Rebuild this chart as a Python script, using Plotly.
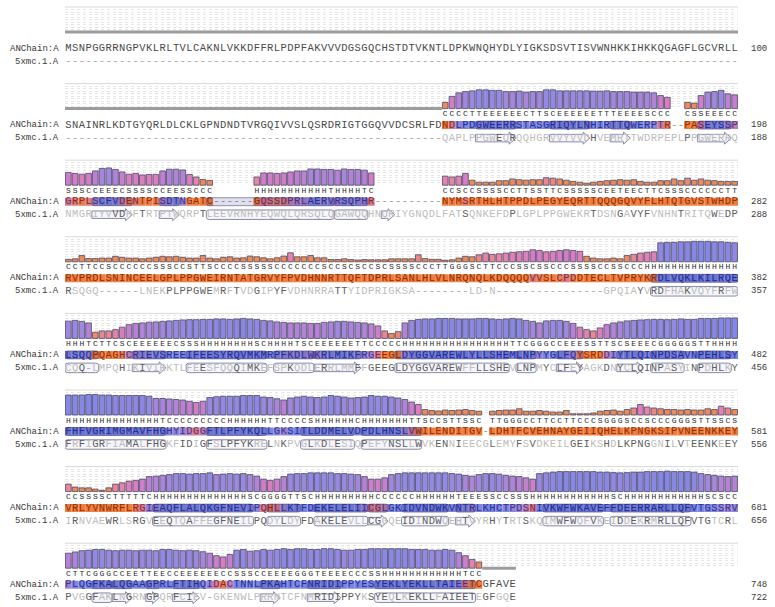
import plotly.graph_objects as go
from plotly.colors import sample_colorscale

# ------------------------------------------------------------------ data
TARGET_NAME = "ANChain:A"
TEMPLATE_NAME = "5xmc.1.A"
TEMPLATE_FIRST_RESIDUE = 145

# target sequence, 100 alignment columns per block ('-' = gap)
target_seq = [
    "MSNPGGRRNGPVKLRLTVLCAKNLVKKDFFRLPDPFAKVVVDGSGQCHSTDTVKNTLDPKWNQHYDLYIGKSDSVTISVWNHKKIHKKQGAGFLGCVRLL",
    "SNAINRLKDTGYQRLDLCKLGPNDNDTVRGQIVVSLQSRDRIGTGGQVVDCSRLFD" + "NDLPDGWEERRSTASGRIQYLNHIRTTQWERPTR" + "--" + "PASEYSSP",
    "GRPLSCFVDENTPISDTNGATC" + "------" + "GQSSDPRLAERVRSQPHR" + "----------" + "NYMSRTHLHTPPDLPEGYEQRTTQQQGQVYFLHTQTGVSTWHDP",
    "RVPRDLSNINCEELGPLPPGWEIRNT" + "ATGRVYFPVDHNNRTTQFTDPRLSANLHLVLNRQNQLKDQQQQVVSLCPDDTECLTVPRYKRDLVQKLKILRQE",
    "LSQQPQAGHCRIEVSREEIFEESYR" + "QVMKMRPFKDLWKRLMIKFRGEEGLDYGGVAREWLYLLSHEMLNPYYGLFQYSRDDIYTLQINPDSAVNPEHLSY",
    "FHFVGRIMGMAVFHGHYIDGGFTLPF" + "YKQLLGKSITLDDMELVDPDLHNSLVWILENDITGV" + "-" + "LDHTFCVEHNAYGEIIQHELKPNGKSIPVNEENKKEY",
    "VRLYVNWRFLRGIEAQFLALQKGFNE" + "VIPQHLLKTFDEKELELIICGLGKIDVNDWKVNTRLKHCTPDSNIVKWFWKAVEFFDEERRARLLQFVTGSSRV",
    "PLQGFKALQGAAGPRLFTIHQIDACT" + "NNLPKAHTCFNRIDIPPYESYEKLYEKLLTAIEETC" + "GFAVE",
]

# template sequence, aligned to the same columns
template_seq = [
    "-" * 100,
    "-" * 56 + "QAPLPPGWEQRQQHGRVVYVVDHVEMRTTWDRPEPLPPGWERRQ",
    "NMGRIYVVDHFTRTPTWQRPTLEEVRNHYEQWQLQRSQLQGAWQQHNQRIYGNQDLFATSQNKEFDPLGPLPPGWEKRTDSNGAVYFVNHNTRITQWEDP",
    "RSQGQ------LNEKPLPPGWEMRFTVDGIPYFVDHNRRATTYIDPRIGKSA--------LD-N----------------GPQIAYVRDFHAKVQYFRFW",
    "CQQ-LMPQHIKIVIRKTLFEESFQQ" + "QIMKEFSPKQDLERRLMMFFGEEGLDYGGVAREWFFLLSHEVLNPMYCLFEYAGKDNYCLQINPASYINPDHLKY",
    "FRFIGRFIAMALFHGKFIDIGFSLPF" + "YKRELNKPVGLKDLESIQPEFYNSLLWVKENNIEECGLEMYFSVDKEILGEIKSHDLKPNGGNILVTEENKEEY",
    "IRNVAEWRLSRGVEEQTQAFFEGFNE" + "ILPQDYLDYFDAKELEVLLCGGQEIDINDWQEHTVYRHYTRTSKQIMWFWQFVKEIDDEKRMRLLQFVTGTCRL",
    "PVGGFAKLNGRNGPQRFCIEV-GKEN" + "WLPRRNTCFNMRIDIPPYKSYEQLKEKLLFAIEETEGFGQE",
]

# model secondary structure (DSSP letters), one per modelled target residue
target_ss = [
    "",
    "CCCCTTEEEEEECTTSCEEEEEETTTEEEESCCC" + "CSSEEECC",
    "SSSCCEEECSSSSCCEESSCCC" + "HHHHHHHHHHHTHHHHTC" + "CCSCCSSSSCCTTSSTTCSSSSSCEETEECTTCSSSCCCCCCTT",
    "CCTTCCSCCCCCCSSSCCSTTSCCCC" + "SSSSSCCCCCCCSCCSCSCCSCSSSSCCCTTGGGSCTTCCCSSCSSCCCS" + "SSSCCSSCCC" + "HHHHHHHHHHHHHH",
    "HHHTCTTCSCEEEEEECSSSHHHHH" + "HHHSCHHHHTSCEEEEEETTCCCCCHHHHHHHHHHHHHHHHTTCGGGCCEEESSTTSCSEEECGGGGGSTTHHHH",
    "HHHHHHHHHHHHHHTCCCCCCCCCHH" + "HHHHTTCCCCSHHHHHHCHHHHHHHTTSCCSTTSSC" + "TTGGGCCTTCCTTCCCSGGGSCCSCCCGGGSTTSSCS",
    "CCSSSSCTTTTTCHHHHHHHHHHHHH" + "HSCGGGGTTSCHHHHHHHHHCCCCCCHHHHHHTEEESSCCSSSHHHHHHHHHHHHSCHHHHHHHHHHHHSCSCC",
    "CTTCGGGCCEETTEECCEEEEEECCS" + "SSCCEEEEGGGTEEEECCCSSHHHHHHHHHHHHTCC",
]

# template secondary structure per column: H/G = helix box, E = strand arrow
template_ss = [
    "".join([".........."] * 10),
    "".join(["..........", "..........", "..........", "..........", "..........",
             "..........", ".EEEEEE...", "..EEEEEE..", ".EEE......", "....EEEEE."]),
    "".join(["....EEEEEE", "....EEE...", ".HHHHHHHHH", "HHHHHHHHHH", "GGGGG..EE.",
             "..........", "..........", "..........", "..........", ".........."]),
    "".join(["..........", "..........", "..........", "..........", "..........",
             "..........", "..........", "..........", ".......HHH", "HHHHHHHHHH"]),
    "".join(["HHHHH.....", "EEEEE...HH", "HHHHHHHHHH", ".HHHHHHEEE", "EEEE.....H",
             "HHHHHHHHHH", "HHHHHH.HHH", "...EEEE...", "..EEEE.HHH", "HH..HHHHH."]),
    "".join(["HHHHHHHHHH", "HHHHH.....", ".HHHHHHHHH", ".....HHHHH", "HHH.GGGGGG",
             "GGG.......", "..........", "..........", "..........", ".........."]),
    "".join(["..........", "...HHHHHHH", "HHHHHHHH..", "HHHHH..HHH", "HHHHHEEE..",
             "HHHHHHH.EE", "E.........", ".HHHHHHHHH", ".GGGGGGGGG", "GGG......."]),
    "".join(["....HHHEEE", "..EE..EEEE", ".........E", "EE....EEEE", "E.....HHHH",
             "HHHHHHHHHH", "H.........", "..........", "..........", ".........."]),
]

# local quality score per target residue (None = residue not modelled)
qmean = [
    [None] * 100,
    [None] * 56 + [
        0.25, 0.49, 0.63, 0.68, 0.71, 0.75, 0.75, 0.73, 0.73, 0.68,
        0.68, 0.70, 0.66, 0.68, 0.68, 0.75, 0.75, 0.71, 0.71, 0.71,
        0.71, 0.71, 0.70, 0.70, 0.71, 0.68, 0.68, 0.68, 0.66, 0.66,
        0.66, 0.63, 0.52, 0.45,
        0.25, 0.22, 0.52, 0.66, 0.68, 0.73, 0.59, 0.55],
    [0.51, 0.47, 0.44, 0.47, 0.57, 0.67, 0.69, 0.63, 0.53, 0.44,
     0.47, 0.41, 0.43, 0.43, 0.57, 0.64, 0.64, 0.61, 0.43, 0.33,
     0.23, 0.19,
     0.33, 0.49, 0.49, 0.47, 0.49, 0.53, 0.57, 0.57, 0.65, 0.65,
     0.63, 0.63, 0.60, 0.65, 0.63, 0.63, 0.60, 0.49,
     0.36, 0.33, 0.36, 0.47, 0.20, 0.12, 0.12, 0.12, 0.18, 0.18,
     0.25, 0.22, 0.20, 0.22, 0.22, 0.30, 0.28, 0.25, 0.20, 0.15,
     0.12, 0.08, 0.12, 0.15, 0.18, 0.20, 0.22, 0.20, 0.22, 0.15,
     0.12, 0.12, 0.18, 0.18, 0.25, 0.18, 0.28, 0.20, 0.25, 0.20,
     0.18, 0.15, 0.15, 0.15],
    [0.10, 0.12, 0.25, 0.13, 0.13, 0.15, 0.15, 0.22, 0.18, 0.15,
     0.15, 0.12, 0.15, 0.18, 0.22, 0.20, 0.22, 0.18, 0.15, 0.15,
     0.25, 0.15, 0.12, 0.18, 0.20, 0.15,
     0.16, 0.23, 0.20, 0.16, 0.12, 0.16, 0.23, 0.36, 0.20, 0.20,
     0.25, 0.16, 0.16, 0.09, 0.09, 0.12, 0.09, 0.07, 0.09, 0.08,
     0.08, 0.08, 0.12, 0.12, 0.12, 0.12, 0.28, 0.13, 0.10, 0.10,
     0.06, 0.08, 0.15, 0.22, 0.20, 0.28, 0.35, 0.30, 0.32, 0.35,
     0.38, 0.40, 0.42, 0.48, 0.45, 0.40, 0.42, 0.45, 0.48, 0.45,
     0.42, 0.22, 0.15, 0.12, 0.12, 0.15, 0.12, 0.25, 0.30, 0.35,
     0.38, 0.40, 0.76, 0.78, 0.78, 0.80, 0.80, 0.82, 0.82, 0.82,
     0.80, 0.80, 0.78, 0.76],
    [0.69, 0.72, 0.68, 0.62, 0.25, 0.30, 0.30, 0.35, 0.45, 0.55,
     0.60, 0.62, 0.65, 0.66, 0.68, 0.70, 0.72, 0.74, 0.75, 0.75,
     0.76, 0.76, 0.78, 0.78, 0.76,
     0.78, 0.80, 0.78, 0.76, 0.72, 0.70, 0.66, 0.64, 0.62, 0.62,
     0.62, 0.60, 0.60, 0.64, 0.66, 0.68, 0.68, 0.66, 0.64, 0.62,
     0.58, 0.50, 0.30, 0.20, 0.27, 0.62, 0.72, 0.76, 0.78, 0.78,
     0.80, 0.80, 0.80, 0.78, 0.78, 0.78, 0.80, 0.80, 0.78, 0.76,
     0.78, 0.80, 0.78, 0.72, 0.68, 0.62, 0.70, 0.72, 0.72, 0.68,
     0.60, 0.45, 0.35, 0.30, 0.42, 0.55, 0.62, 0.66, 0.70, 0.72,
     0.74, 0.75, 0.76, 0.76, 0.75, 0.76, 0.78, 0.76, 0.76, 0.80,
     0.80, 0.80, 0.82, 0.82, 0.82],
    [0.80, 0.80, 0.80, 0.82, 0.82, 0.80, 0.80, 0.78, 0.78, 0.78,
     0.78, 0.78, 0.75, 0.66, 0.66, 0.64, 0.62, 0.60, 0.55, 0.50,
     0.55, 0.70, 0.73, 0.75, 0.75, 0.75,
     0.78, 0.78, 0.78, 0.72, 0.70, 0.65, 0.60, 0.68, 0.72, 0.75,
     0.72, 0.70, 0.72, 0.78, 0.75, 0.72, 0.68, 0.70, 0.72, 0.78,
     0.75, 0.75, 0.72, 0.68, 0.62, 0.52, 0.42, 0.22, 0.18, 0.16,
     0.20, 0.18, 0.20, 0.22, 0.18, 0.15,
     0.15, 0.18, 0.20, 0.20, 0.25, 0.15, 0.15, 0.18, 0.15, 0.12,
     0.12, 0.18, 0.05, 0.05, 0.05, 0.08, 0.15, 0.18, 0.20, 0.15,
     0.22, 0.28, 0.42, 0.32, 0.28, 0.25, 0.22, 0.22, 0.20, 0.22,
     0.20, 0.20, 0.25, 0.22, 0.35, 0.28, 0.22],
    [0.30, 0.18, 0.15, 0.15, 0.10, 0.05, 0.15, 0.30, 0.35, 0.42,
     0.45, 0.50, 0.60, 0.62, 0.65, 0.68, 0.72, 0.72, 0.70, 0.72,
     0.72, 0.75, 0.68, 0.70, 0.72, 0.70,
     0.72, 0.68, 0.62, 0.50, 0.45, 0.50, 0.60, 0.70, 0.72, 0.72,
     0.75, 0.75, 0.75, 0.75, 0.72, 0.72, 0.70, 0.68, 0.60, 0.50,
     0.50, 0.55, 0.68, 0.72, 0.75, 0.75, 0.75, 0.75, 0.75, 0.75,
     0.75, 0.72, 0.70, 0.65, 0.62, 0.68, 0.72, 0.72, 0.70, 0.65,
     0.62, 0.60, 0.55, 0.50, 0.72, 0.75, 0.78, 0.80, 0.80, 0.80,
     0.80, 0.80, 0.80, 0.78, 0.78, 0.76, 0.75, 0.76, 0.78, 0.78,
     0.80, 0.80, 0.80, 0.82, 0.80, 0.80, 0.80, 0.78, 0.72, 0.68,
     0.65, 0.62, 0.60, 0.62],
    [0.60, 0.65, 0.70, 0.72, 0.75, 0.75, 0.72, 0.70, 0.72, 0.72,
     0.70, 0.72, 0.72, 0.70, 0.75, 0.75, 0.72, 0.70, 0.72, 0.70,
     0.66, 0.60, 0.50, 0.45, 0.55, 0.72,
     0.75, 0.68, 0.70, 0.75, 0.72, 0.75, 0.78, 0.75, 0.78, 0.78,
     0.75, 0.75, 0.78, 0.78, 0.75, 0.72, 0.72, 0.75, 0.75, 0.78,
     0.78, 0.78, 0.78, 0.78, 0.78, 0.75, 0.75, 0.75, 0.72, 0.72,
     0.75, 0.72, 0.62, 0.50, 0.35, 0.25] + [None] * 5,
]

GRID_LEVELS = [0.1, 0.2, 0.3, 0.4, 0.5, 0.6, 0.7, 0.8, 0.9]

# ------------------------------------------------------------------ style
W, H = 775, 607
X0_PX, X1_PX = 65, 738
NCOL = 100
PX_PER_UNIT = 25.0
TOP_PAD, BOT_PAD = 4, 62
Y_SS, Y_TGT, Y_TPL = -0.22, -0.66, -1.18
FONT = "Liberation Mono, Courier New, monospace"
SEQ_SIZE = 10.5
SS_SIZE = 8
LABEL_SIZE = 9

BAR_SCALE = [[0.0, '#f08a45'], [0.24, '#f08a55'], [0.32, '#e985a6'], [0.45, '#db7cc2'],
             [0.58, '#be80d3'], [0.70, '#9d88df'], [0.82, '#8487e8'], [1.0, '#7584ee']]
BG_SCALE = [[0.0, '#f27c3e'], [0.42, '#f27c3e'], [0.50, '#d67c8c'], [0.58, '#a584cc'],
            [0.66, '#8086dc'], [1.0, '#6a80e6']]
TXT_SCALE = [[0.0, '#8c3208'], [0.42, '#8c3208'], [0.50, '#7a2c55'], [0.58, '#4a3490'],
             [0.66, '#26329a'], [1.0, '#1a2aa0']]


def block_top(b):
    return 7 + 76.6 * b


def runs(s):
    out = []
    i = 0
    while i < len(s):
        ch = s[i]
        if ch in 'HGE':
            j = i
            while j + 1 < len(s) and s[j + 1] == ch:
                j += 1
            out.append((ch, i, j))
            i = j + 1
        else:
            i += 1
    return out


def rrect_path(x0, x1, yc, hh, rx=0.45, ry=0.08):
    y0, y1 = yc - hh, yc + hh
    f = lambda v: f"{v:.3f}"
    return (f"M {f(x0+rx)},{f(y0)} L {f(x1-rx)},{f(y0)} Q {f(x1)},{f(y0)} {f(x1)},{f(y0+ry)} "
            f"L {f(x1)},{f(y1-ry)} Q {f(x1)},{f(y1)} {f(x1-rx)},{f(y1)} L {f(x0+rx)},{f(y1)} "
            f"Q {f(x0)},{f(y1)} {f(x0)},{f(y1-ry)} L {f(x0)},{f(y0+ry)} Q {f(x0)},{f(y0)} {f(x0+rx)},{f(y0)} Z")


def arrow_path(x0, x1, yc, hb=0.15, hh=0.24, head=1.0):
    xh = max(x0 + 0.3, x1 - head)
    f = lambda v: f"{v:.3f}"
    return (f"M {f(x0)},{f(yc-hb)} L {f(xh)},{f(yc-hb)} L {f(xh)},{f(yc-hh)} L {f(x1)},{f(yc)} "
            f"L {f(xh)},{f(yc+hh)} L {f(xh)},{f(yc+hb)} L {f(x0)},{f(yc+hb)} Z")


fig = go.Figure()
layout = {}
shapes = []
annotations = []

layout['xaxis'] = dict(domain=[X0_PX / W, X1_PX / W], range=[-0.5, NCOL - 0.5], visible=False,
                       fixedrange=True)

t_count = 0
p_count = TEMPLATE_FIRST_RESIDUE - 1
for b in range(len(target_seq)):
    yname = 'y' if b == 0 else f'y{b+1}'
    ykey = 'yaxis' if b == 0 else f'yaxis{b+1}'
    T = block_top(b)
    layout[ykey] = dict(
        domain=[1 - (T + BOT_PAD) / H, 1 - (T - TOP_PAD) / H],
        range=[(PX_PER_UNIT - BOT_PAD) / PX_PER_UNIT, (PX_PER_UNIT + TOP_PAD) / PX_PER_UNIT],
        tickvals=GRID_LEVELS, showticklabels=False, showgrid=True, gridcolor='#e6e6e6',
        griddash='dot', gridwidth=1, zeroline=False, showline=False, anchor='x', fixedrange=True)

    seq = target_seq[b]
    tpl = template_seq[b]
    scores = qmean[b]
    res_cols = [c for c, ch in enumerate(seq) if ch != '-']
    col_score = {c: s for c, s in zip(res_cols, scores)}
    mod_cols = [c for c in res_cols if col_score.get(c) is not None]
    mod_vals = [col_score[c] for c in mod_cols]
    unmod_cols = [c for c in res_cols if col_score.get(c) is None]

    # panel top border
    shapes.append(dict(type='line', xref='x', yref=yname, x0=-0.5, x1=NCOL - 0.5, y0=1.0, y1=1.0,
                       line=dict(color='#d9d9d9', width=1), layer='below'))

    # unmodelled residues: grey baseline
    if unmod_cols:
        lx, ly = [], []
        start = prev = unmod_cols[0]
        for c in unmod_cols[1:] + [None]:
            if c is not None and c == prev + 1:
                prev = c
                continue
            lx += [start - 0.5, prev + 0.5, None]
            ly += [0, 0, None]
            if c is not None:
                start = prev = c
        fig.add_trace(go.Scatter(x=lx, y=ly, mode='lines', xaxis='x', yaxis=yname,
                                 line=dict(color='#9c9c9c', width=3), hoverinfo='skip'))

    if mod_cols:
        # score bars
        fig.add_trace(go.Bar(x=mod_cols, y=mod_vals, base=0, width=0.84, xaxis='x', yaxis=yname,
                             marker=dict(color=sample_colorscale(BAR_SCALE, mod_vals),
                                         line=dict(color='#4a4a66', width=0.8)),
                             hoverinfo='skip'))
        # sequence background
        fig.add_trace(go.Bar(x=mod_cols, y=[0.32] * len(mod_cols), base=Y_TGT - 0.16, width=1.0,
                             xaxis='x', yaxis=yname,
                             marker=dict(color=sample_colorscale(BG_SCALE, mod_vals), line=dict(width=0)),
                             hoverinfo='skip'))
        # secondary structure letters
        ss = target_ss[b]
        n = min(len(ss), len(mod_cols))
        fig.add_trace(go.Scatter(x=mod_cols[:n], y=[Y_SS] * n, mode='text', text=list(ss[:n]),
                                 xaxis='x', yaxis=yname, textposition='middle center',
                                 textfont=dict(family=FONT, size=SS_SIZE, color='#2b2b2b'),
                                 hoverinfo='skip', cliponaxis=False))

    # template secondary-structure elements (on template row and mirrored on target row)
    mod_set = set(mod_cols)
    for kind, c0, c1 in runs(template_ss[b]):
        if kind == 'E':
            path = arrow_path(c0 - 0.5, c1 + 0.5, Y_TPL)
        else:
            path = rrect_path(c0 - 0.5, c1 + 0.5, Y_TPL, 0.19)
        shapes.append(dict(type='path', xref='x', yref=yname, path=path,
                           fillcolor='rgba(225,225,240,0.35)',
                           line=dict(color='#8a8aa8', width=1), layer='below'))
        inside = [c for c in range(c0, c1 + 1) if c in mod_set]
        if inside:
            shapes.append(dict(type='path', xref='x', yref=yname,
                               path=rrect_path(min(inside) - 0.5, max(inside) + 0.5, Y_TGT, 0.16, 0.4, 0.07),
                               fillcolor='rgba(30,30,110,0.14)',
                               line=dict(color='rgba(70,60,120,0.55)', width=1), layer='above'))

    # target letters
    tcols, tchars, tcolors = [], [], []
    txt_cols = sample_colorscale(TXT_SCALE, mod_vals) if mod_vals else []
    txt_map = dict(zip(mod_cols, txt_cols))
    for c, ch in enumerate(seq):
        tcols.append(c)
        tchars.append(ch)
        if ch == '-':
            tcolors.append('#9a9a9a')
        elif c in txt_map:
            tcolors.append(txt_map[c])
        else:
            tcolors.append('#4a4a4a')
    fig.add_trace(go.Scatter(x=tcols, y=[Y_TGT] * len(tcols), mode='text', text=tchars,
                             xaxis='x', yaxis=yname, textposition='middle center',
                             textfont=dict(family=FONT, size=SEQ_SIZE, color=tcolors),
                             hoverinfo='skip', cliponaxis=False))

    # template letters
    pcols, pchars, pcolors = [], [], []
    for c, ch in enumerate(tpl):
        pcols.append(c)
        pchars.append(ch)
        if ch == '-':
            pcolors.append('#a8a8a8')
        elif c < len(seq) and seq[c] == ch:
            pcolors.append('#5e5e5e')
        else:
            pcolors.append('#bcbcbc')
    fig.add_trace(go.Scatter(x=pcols, y=[Y_TPL] * len(pcols), mode='text', text=pchars,
                             xaxis='x', yaxis=yname, textposition='middle center',
                             textfont=dict(family=FONT, size=SEQ_SIZE, color=pcolors),
                             hoverinfo='skip', cliponaxis=False))

    # row labels and residue numbers
    t_count += len(res_cols)
    n_tpl = sum(1 for ch in tpl if ch != '-')
    p_count += n_tpl
    lab_font = dict(family=FONT, size=LABEL_SIZE, color='#3a3a3a')
    annotations.append(dict(xref='paper', yref=yname, x=61 / W, y=Y_TGT, text=TARGET_NAME,
                            xanchor='right', yanchor='middle', showarrow=False, font=lab_font))
    annotations.append(dict(xref='paper', yref=yname, x=61 / W, y=Y_TPL, text=TEMPLATE_NAME,
                            xanchor='right', yanchor='middle', showarrow=False, font=lab_font))
    annotations.append(dict(xref='paper', yref=yname, x=749 / W, y=Y_TGT, text=str(t_count),
                            xanchor='left', yanchor='middle', showarrow=False, font=lab_font))
    if n_tpl:
        annotations.append(dict(xref='paper', yref=yname, x=749 / W, y=Y_TPL, text=str(p_count),
                                xanchor='left', yanchor='middle', showarrow=False, font=lab_font))

fig.update_layout(
    width=W, height=H, margin=dict(l=0, r=0, t=0, b=0),
    paper_bgcolor='white', plot_bgcolor='white',
    showlegend=False, barmode='overlay', hovermode=False,
    shapes=shapes, annotations=annotations, **layout)

fig.write_html("out.html", config={'displayModeBar': False},
               post_script="document.body.style.margin='0px';")
